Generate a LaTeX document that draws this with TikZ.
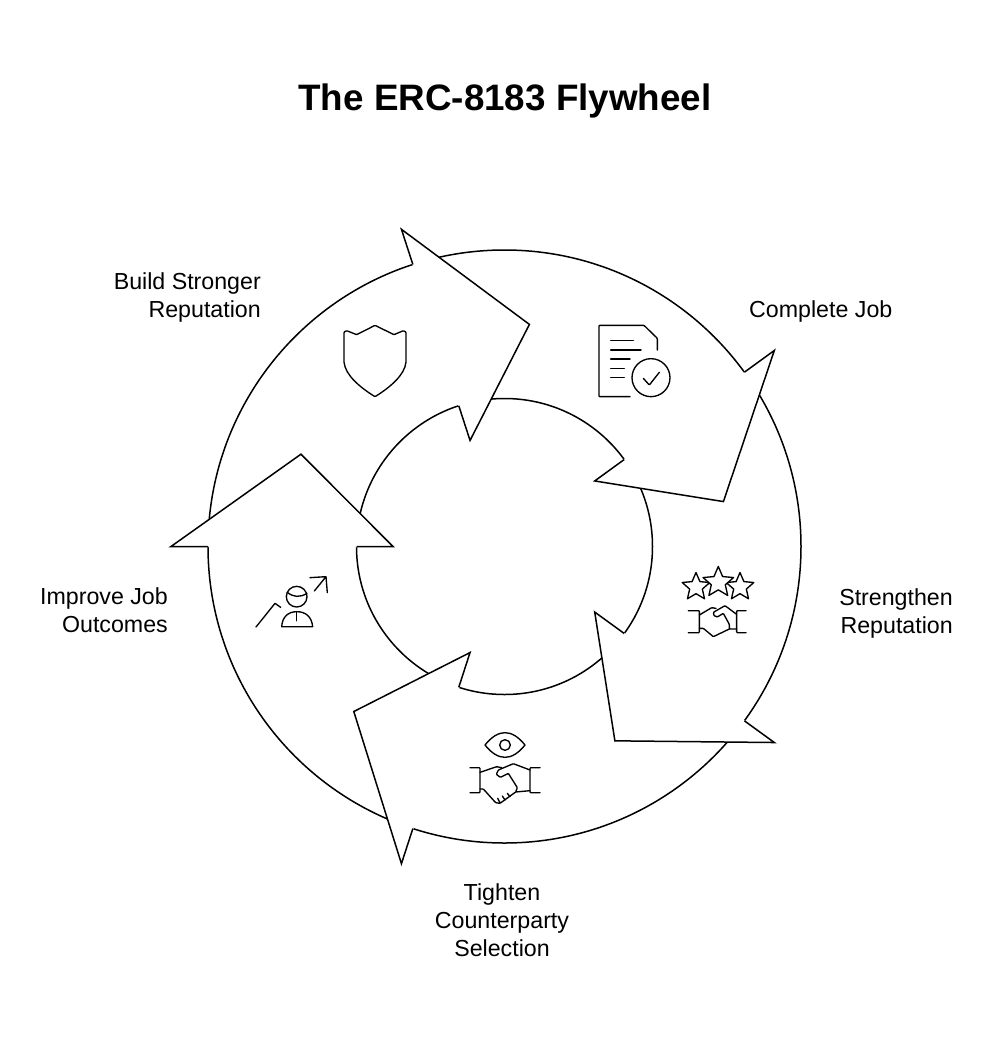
\documentclass[tikz,border=0pt]{standalone}
\usepackage{fontspec}
\setmainfont{Liberation Sans}
\usetikzlibrary{calc}
\tikzset{
  x=1pt,y=-1pt,
  ring/.style={line width=1.5pt,black},
  headfill/.style={fill=white,draw=none},
  icon/.style={line width=1.35pt,black,line cap=round,line join=round,rounded corners=0.8pt},
  lbl/.style={font=\fontsize{23.2}{28}\selectfont,inner sep=0pt,text=black},
  ttl/.style={font=\fontsize{36.8}{44}\selectfont\bfseries,inner sep=0pt,text=black}
}
\newcommand{\fivestar}[4]{%
  \draw[icon,rounded corners=0pt,fill=white] plot[samples at={0,...,9},variable=\k]
   ({#1+(mod(\k,2)==0?#3:#3*0.46)*sin(36*\k+#4)},{#2-(mod(\k,2)==0?#3:#3*0.46)*cos(36*\k+#4)}) -- cycle;}
\begin{document}
\begin{tikzpicture}
\useasboundingbox (0,0) rectangle (1000,1037);
\fill[white] (0,0) rectangle (1000,1037);
\coordinate (c) at (504.5,546.5);
\draw[ring] (c) circle[radius=296.5];
\draw[ring] (c) circle[radius=148];
\foreach \a in {180,108,36,-36,-108}{
  \coordinate (wo) at ({504.5+333.5*cos(\a)},{546.5-333.5*sin(\a)});
  \coordinate (wi) at ({504.5+111.5*cos(\a)},{546.5-111.5*sin(\a)});
  \coordinate (ro) at ({504.5+296.5*cos(\a)},{546.5-296.5*sin(\a)});
  \coordinate (ri) at ({504.5+148*cos(\a)},{546.5-148*sin(\a)});
  \coordinate (tp) at ({504.5+223.5*cos(\a-24.4)},{546.5-223.5*sin(\a-24.4)});
  \fill[headfill] (wo) -- (tp) -- (wi) -- cycle;
  \fill[white] (ro) circle[radius=0.9];
  \fill[white] (ri) circle[radius=0.9];
  \draw[ring,line join=miter] (ro) -- (wo) -- (tp) -- (wi) -- (ri);
}
\node[ttl] (title) at (505,100.5) {The ERC-8183 Flywheel};
\node[lbl,anchor=east,align=right] (build) at (261,297) {Build Stronger\\Reputation};
\node[lbl,anchor=west] (complete) at (749,311) {Complete Job};
\node[lbl,anchor=east,align=right] (strengthen) at (953,613) {Strengthen\\Reputation};
\node[lbl,anchor=east,align=right] (improve) at (168,610) {Improve Job\\Outcomes};
\node[lbl,align=center] (tighten) at (502,920) {Tighten\\Counterparty\\Selection};
% shield
\begin{scope}[shift={(320,300)},scale=1/3]
\draw[icon] (165,76) -- (110,104) -- (80,92) -- (72,96) -- (72,185)
  .. controls (76,225) and (120,262) .. (165,290)
  .. controls (210,262) and (254,225) .. (258,185) -- (258,96) -- (250,92) -- (222,104) -- cycle;
\end{scope}
% document
\begin{scope}[shift={(580,310)},scale=1/3]
\draw[icon] (150,260) -- (57,260) -- (57,46) -- (192,46) -- (232,85) -- (232,120);
\draw[icon] (92,92) -- (160,92) (92,120) -- (183,120) (92,147) -- (150,147) (92,175) -- (133,175) (92,203) -- (133,203);
\draw[icon] (213,203) circle[radius=57];
\draw[icon] (190,205) -- (208,225) -- (238,187);
\end{scope}
% stars
\fivestar{696}{587}{14.5}{0}
\fivestar{740}{587}{14.5}{0}
\fivestar{718.3}{582.5}{16}{0}
% handshake 1
\begin{scope}[shift={(670,555)},scale=1/3]
\draw[icon] (55,167) -- (88,167) -- (88,233) -- (55,233);
\draw[icon] (228,167) -- (200,167) -- (200,233) -- (228,233);
\draw[icon] (88,180) -- (125,158) -- (138,160);
\draw[icon] (200,178) -- (165,152) -- (130,172) -- (132,182) -- (142,186) -- (160,175) -- (178,208) -- (178,222) -- (200,222);
\draw[icon] (88,220) -- (100,220) -- (130,245) -- (178,222);
\end{scope}
% eye and handshake 2
\begin{scope}[shift={(455,720)},scale=1/3]
\draw[icon,rounded corners=0pt] (90,75) .. controls (110,50) and (130,38) .. (150,38) .. controls (170,38) and (190,50) .. (210,75) .. controls (190,100) and (170,112) .. (150,112) .. controls (130,112) and (110,100) .. (90,75) -- cycle;
\draw[icon] (150,75) circle[radius=16];
\draw[icon] (45,143) -- (75,143) -- (75,218) -- (45,218);
\draw[icon] (255,143) -- (225,143) -- (225,218) -- (255,218);
\draw[icon] (75,157) -- (125,140) -- (140,143);
\draw[icon] (225,150) -- (175,131) -- (130,150) -- (124,163) -- (136,172) -- (160,160) -- (187,203) -- (182,216) -- (225,212);
\draw[icon] (75,207) -- (85,207) -- (122,248) -- (135,250) -- (182,216);
\draw[icon] (135,248) -- (128,235) (150,240) -- (142,228) (165,230) -- (157,220);
\end{scope}
% person with arrow
\begin{scope}[shift={(245,565)},scale=1/3]
\draw[icon] (155,95) circle[radius=31];
\draw[icon,rounded corners=0pt] (127,82) .. controls (145,97) and (165,98) .. (186,85);
\draw[icon,rounded corners=0pt] (110,185) .. controls (112,155) and (130,140) .. (155,140) .. controls (182,140) and (200,155) .. (203,185) -- cycle;
\draw[icon] (155,140) -- (155,167);
\draw[icon,rounded corners=0pt] (33,186) -- (90,115) -- (107,127);
\draw[icon,rounded corners=0pt] (208,78) -- (243,35) (195,38) -- (243,35) -- (247,83);
\end{scope}
\end{tikzpicture}
\end{document}
